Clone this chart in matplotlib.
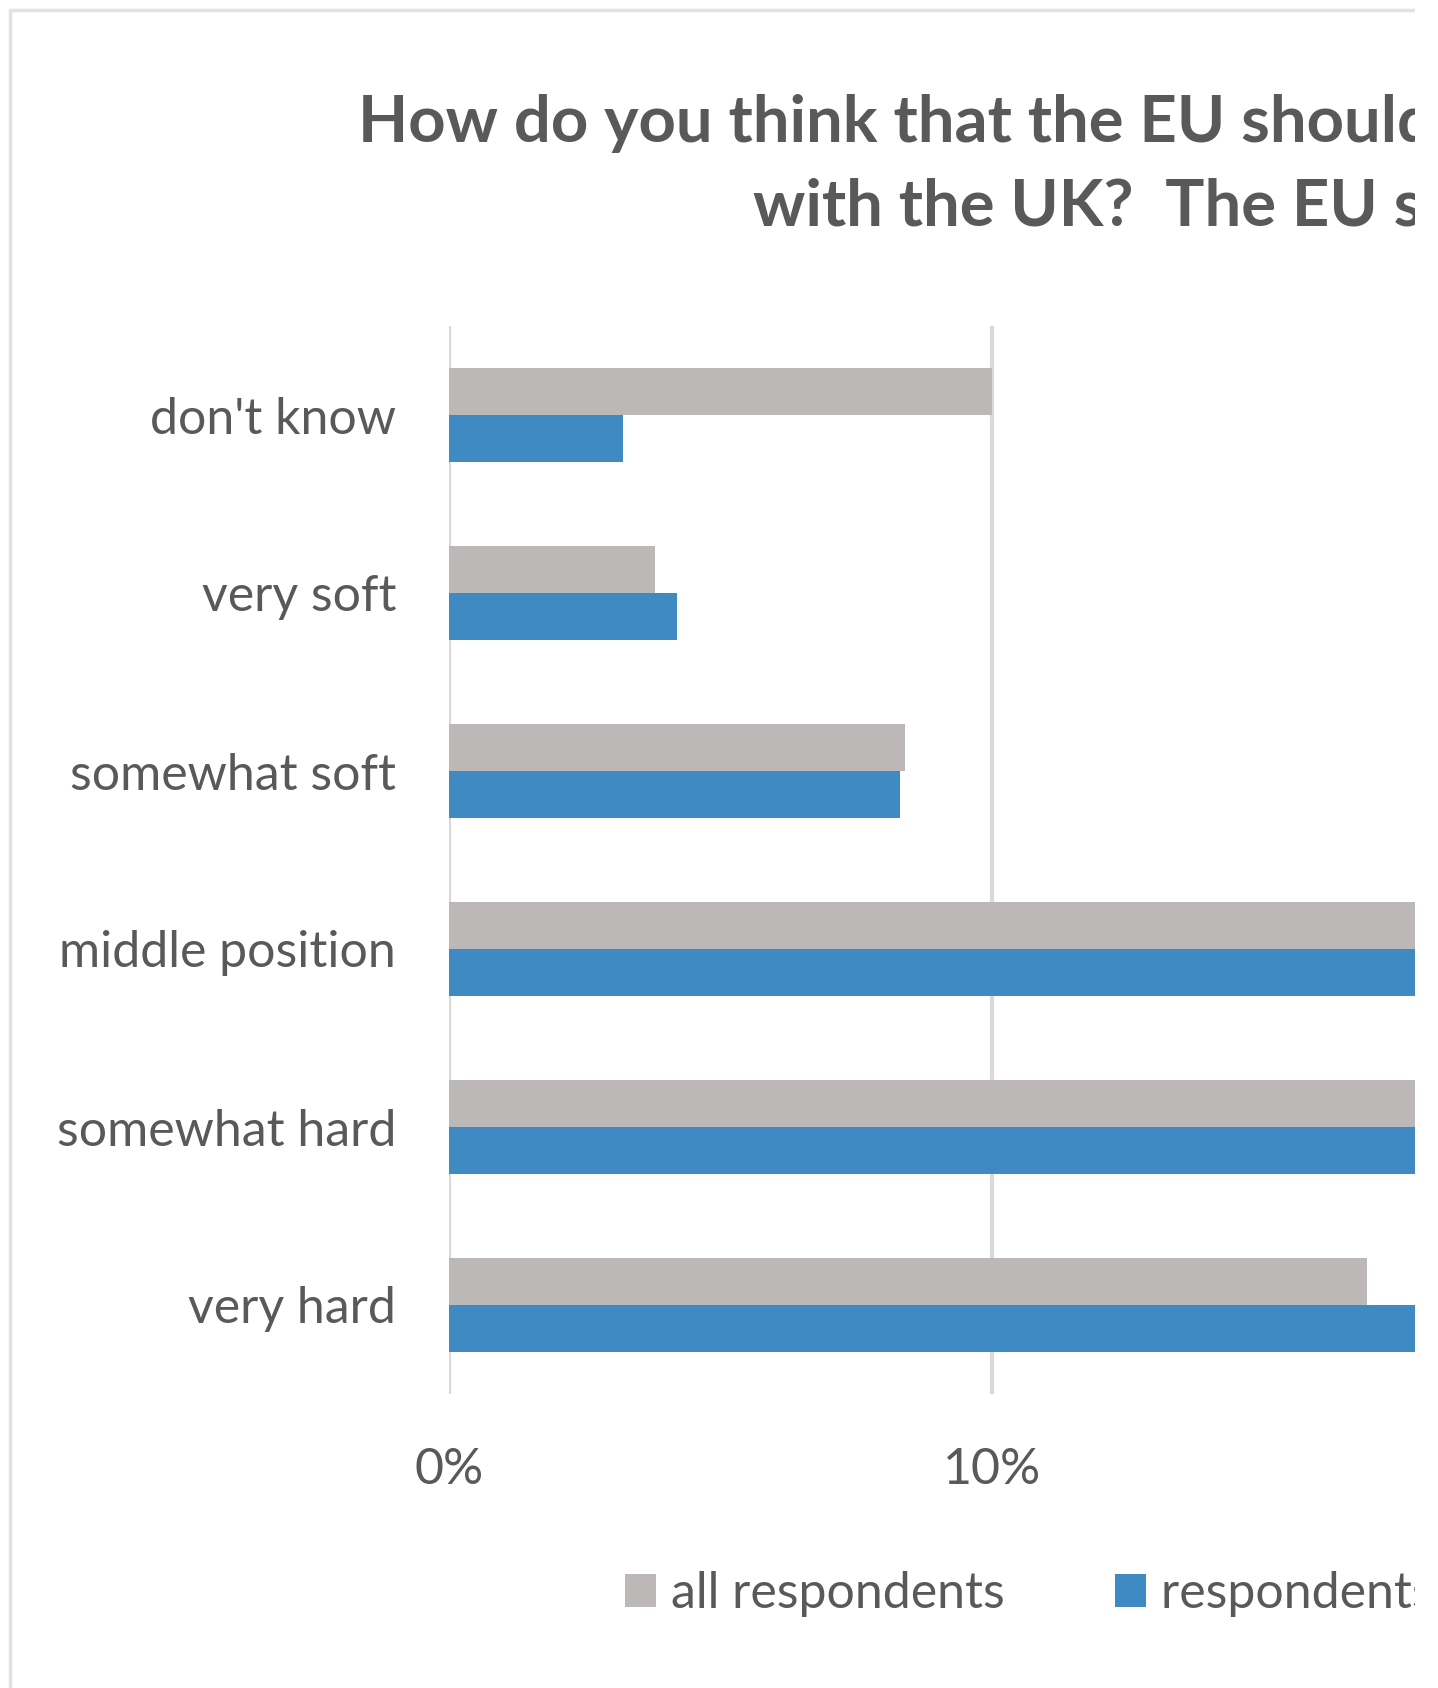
import matplotlib
matplotlib.use("Agg")
import matplotlib.pyplot as plt
import numpy as np
from matplotlib.patches import Rectangle

# data (percent); bars past the right edge are cut off in the source
categories = ["don't know", "very soft", "somewhat soft", "middle position", "somewhat hard", "very hard"]
all_resp = [10.0, 3.8, 8.4, 27.0, 28.0, 16.9]
sub_resp = [3.2, 4.2, 8.3, 25.0, 33.0, 24.0]
xticks = [0, 10]
xtick_labels = ["0%", "10%"]
series_names = ["all respondents", "respondents who voted"]

GRAY = "#BCB8B7"
BLUE = "#3F8AC3"
TEXT = "#595959"
GRID = "#D9D9D9"

plt.rcParams["font.family"] = ["Lato", "DejaVu Sans"]

W, H = 1438, 1688
fig = plt.figure(figsize=(W / 100, H / 100), dpi=100)

# chart frame (left and top edges visible)
fig.patches.append(Rectangle((10 / W, -0.1), 2.0, 1 - 10 / H + 0.1, transform=fig.transFigure,
                             fill=False, edgecolor="#E3E3E3", linewidth=2.5, zorder=1))

px_per_pct = 54.3
x_max = 40
ax = fig.add_axes([449 / W, 1 - 1394 / H, x_max * px_per_pct / W, (1394 - 326) / H])

y = np.arange(len(categories))
h = 0.265
ax.barh(y - h / 2, all_resp, height=h, color=GRAY, label=series_names[0], zorder=2)
ax.barh(y + h / 2, sub_resp, height=h, color=BLUE, label=series_names[1], zorder=2)

ax.set_ylim(len(categories) - 0.5, -0.5)
ax.set_xlim(0, x_max)
ax.set_yticks(y)
ax.set_yticklabels(categories, fontsize=36, color=TEXT)
ax.set_xticks(xticks)
ax.set_xticklabels(xtick_labels, fontsize=36, color=TEXT)
ax.tick_params(axis="y", length=0, pad=38)
ax.tick_params(axis="x", length=0, pad=38)
ax.grid(axis="x", color=GRID, linewidth=3, zorder=0)
for s in ax.spines.values():
    s.set_visible(False)

# title (cut off on the right in the source)
fig.text(358 / W, 1 - 142 / H, "How do you think that the EU should negotiate",
         fontsize=47, fontweight="bold", color=TEXT, va="baseline", ha="left")
fig.text(753 / W, 1 - 226 / H, "with the UK?  The EU should be",
         fontsize=47, fontweight="bold", color=TEXT, va="baseline", ha="left")

fig.legend(loc="center left", bbox_to_anchor=(580 / W, 1 - 1594 / H), ncol=2, frameon=False,
           fontsize=36, labelcolor=TEXT, handlelength=0.62, handleheight=0.62,
           handletextpad=0.3, columnspacing=2.2)

# right edge of the screenshot is blank
fig.patches.append(Rectangle((1415 / W, 0), 1, 1, transform=fig.transFigure,
                             facecolor="white", edgecolor="none", zorder=10))

fig.savefig("out.png", dpi=100)
